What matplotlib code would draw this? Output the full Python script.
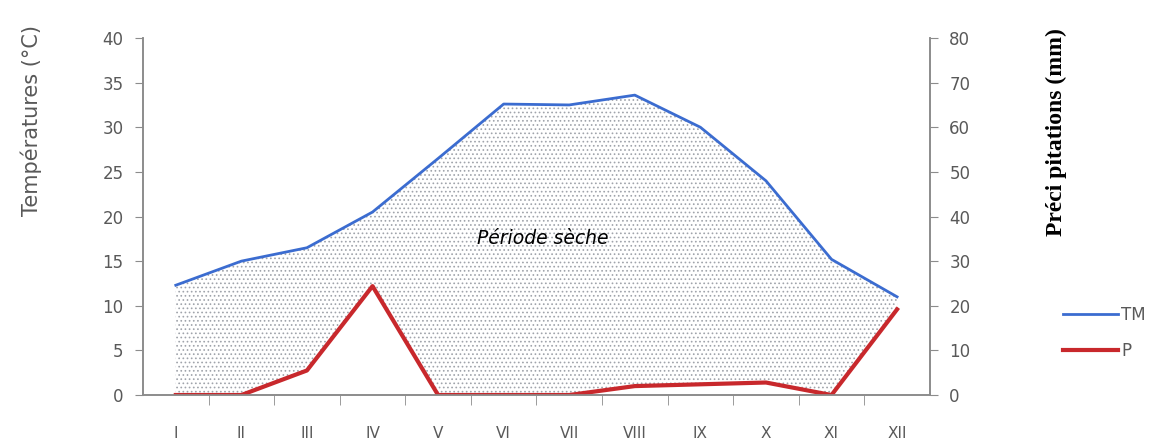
import matplotlib.pyplot as plt
import numpy as np

months = ['I', 'II', 'III', 'IV', 'V', 'VI', 'VII', 'VIII', 'IX', 'X', 'XI', 'XII']
tm = [12.3, 15.0, 16.5, 20.5, 26.5, 32.6, 32.5, 33.6, 30.0, 24.0, 15.2, 11.0]
precip = [0.0, 0.0, 5.5, 24.4, 0.0, 0.0, 0.0, 2.0, 2.4, 2.8, 0.0, 19.2]

grey = '#595959'
plt.rcParams['hatch.linewidth'] = 0.7

fig = plt.figure(figsize=(11.58, 4.47), dpi=100)
ax = fig.add_axes([0.1235, 0.1163, 0.6795, 0.7987])
ax2 = ax.twinx()

x = np.arange(len(months))
p_scaled = np.array(precip) / 2.0  # P = 2T convention

# dry period (TM above P)
ax.fill_between(x, p_scaled, tm, where=np.array(tm) >= p_scaled, interpolate=True,
                facecolor='none', edgecolor='#a0a4ab', hatch='....', linewidth=0)

ax.plot(x, tm, color='#3b6cd0', lw=2.0, solid_joinstyle='round')
ax2.plot(x, precip, color='#c8282c', lw=3, solid_joinstyle='round')

ax.set_xlim(-0.5, 11.5)
ax.set_ylim(0, 40)
ax2.set_ylim(0, 80)
ax.set_yticks(range(0, 41, 5))
ax2.set_yticks(range(0, 81, 10))

ax.set_xticks(x)
ax.set_xticklabels(months)
ax.set_xticks(np.arange(0.5, 11.5, 1), minor=True)
ax.tick_params(axis='x', which='major', length=0, pad=22, labelsize=11, colors=grey)
ax.tick_params(axis='x', which='minor', length=7, color='#8c8c8c', direction='out')
ax.tick_params(axis='y', length=6, color='#8c8c8c', labelsize=12, labelcolor=grey, pad=8)
ax2.tick_params(axis='y', length=6, color='#8c8c8c', labelsize=12, labelcolor=grey, pad=8)

for a in (ax, ax2):
    a.spines['top'].set_visible(False)
    for s in ('left', 'right', 'bottom'):
        a.spines[s].set_color('#8c8c8c')
        a.spines[s].set_linewidth(1.2)

ax.text(5.6, 17.5, 'Période sèche', style='italic', fontsize=13.5, ha='center', va='center')

fig.text(0.027, 0.73, 'Températures (°C)', rotation=90, ha='center', va='center',
         fontsize=15, color=grey)
fig.text(0.912, 0.705, 'Préci pitations (mm)', rotation=90, ha='center', va='center',
         fontsize=17, fontweight='bold', family='Liberation Serif')

# legend
fig.legend(handles=ax.get_lines() + ax2.get_lines(), labels=['TM', 'P'],
           loc='center left', bbox_to_anchor=(0.905, 0.255), frameon=False,
           fontsize=12, labelcolor=grey, handlelength=3.3, handletextpad=0.2,
           labelspacing=1.1)

fig.savefig('out.png', dpi=100)
